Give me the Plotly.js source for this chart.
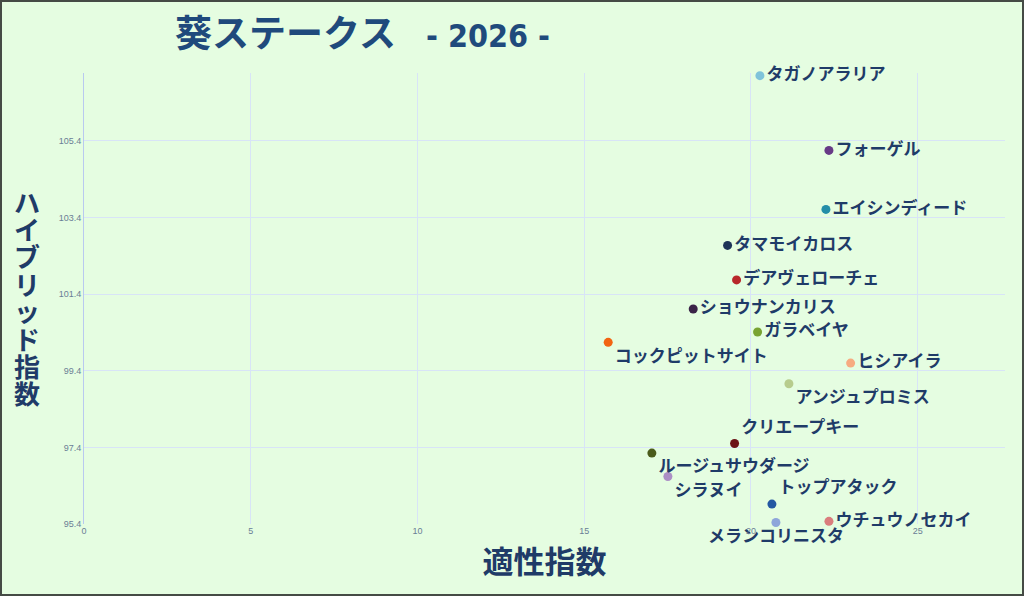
<!DOCTYPE html>
<html>
<head>
<meta charset="utf-8">
<script src="https://cdn.plot.ly/plotly-3.0.1.min.js"></script>
<style>
  html, body { margin: 0; padding: 0; background: #e5fde1; }
  #frame { width: 1024px; height: 596px; box-sizing: border-box; border: 2px solid #454b45; }
  #chart { width: 1020px; height: 592px; }
</style>
</head>
<body>
<div id="frame"><div id="chart"></div></div>
<script>
// horses
let horse_names = [
    "タガノアラリア", "フォーゲル", "エイシンディード", "タマモイカロス",
    "デアヴェローチェ", "ショウナンカリス", "ガラベイヤ", "コックピットサイト",
    "ヒシアイラ", "アンジュプロミス", "クリエープキー", "ルージュサウダージ",
    "シラヌイ", "トップアタック", "メランコリニスタ", "ウチュウノセカイ"
];
let aptitude_index = [
    20.27, 22.34, 22.25, 19.30,
    19.57, 18.27, 20.20, 15.72,
    22.99, 21.14, 19.51, 17.03,
    17.51, 20.63, 20.75, 22.34
];
let hybrid_index = [
    107.10, 105.15, 103.61, 102.67,
    101.77, 101.01, 100.41, 100.14,
    99.60, 99.06, 97.50, 97.25,
    96.64, 95.92, 95.44, 95.47
];

// styling, one per horse
let marker_colors = [
    "#7fc3da", "#673a86", "#238ea8", "#1d3357",
    "#b8282a", "#3b2448", "#79a332", "#f26412",
    "#f7ab80", "#b7cc8d", "#6c1316", "#4b5c1c",
    "#ac8fc5", "#2458a2", "#8ea6da", "#da7d7d"
];
let label_positions = [
    "middle right", "middle right", "middle right", "middle right",
    "middle right", "middle right", "middle right", "bottom right",
    "middle right", "bottom right", "top right", "bottom right",
    "bottom right", "top right", "bottom center", "middle right"
];

let text_color = "#1f3b68";
let jp_font = "'Noto Sans CJK JP', 'Noto Sans', sans-serif";

var data = [{
    type: "scatter",
    mode: "markers+text",
    x: aptitude_index,
    y: hybrid_index,
    text: horse_names,
    textposition: label_positions,
    textfont: { family: jp_font, size: 17, color: text_color, weight: "bold" },
    marker: { size: 9, color: marker_colors },
    cliponaxis: false,
    hoverinfo: "text+x+y",
    showlegend: false
}];

// vertical y title, one character per annotation
var yTitle = "ハイブリッド指数";
var annotations = [];
for (var i = 0; i < yTitle.length; ++i) {
    var py = 199 + i * 27.4;          // pixel centre inside the chart div
    annotations.push({
        xref: "paper", yref: "paper",
        x: -0.062, y: 1 - (py - 71) / (592 - 71 - 70),
        xanchor: "center", yanchor: "middle",
        showarrow: false,
        text: yTitle[i],
        font: { family: jp_font, size: 26, color: text_color, weight: "bold" }
    });
}

var layout = {
    width: 1020,
    height: 592,
    paper_bgcolor: "#e5fde1",
    plot_bgcolor: "#e5fde1",
    margin: { l: 82, r: 17, t: 71, b: 70 },
    title: {
        text: "<b>葵ステークス<span style=\"font-family:'DejaVu Sans Condensed';font-size:32px\">&nbsp;&nbsp;&nbsp;- 2026 -</span></b>",
        font: { family: jp_font, size: 37, color: "#1f4a7c" },
        xref: "container", x: 173 / 1020, xanchor: "left",
        yref: "container", y: 1 - 32 / 592, yanchor: "middle"
    },
    xaxis: {
        range: [0, 27.62],
        tick0: 0, dtick: 5,
        showgrid: true, gridcolor: "#d8e4f7", gridwidth: 1,
        zeroline: false,
        showline: false,
        ticks: "",
        tickfont: { family: "Liberation Sans, Arial", size: 9, color: "#6a7d96" },
        title: {
            text: "<b>適性指数</b>",
            font: { family: jp_font, size: 31, color: text_color },
            standoff: 16
        }
    },
    yaxis: {
        range: [95.4, 107.17],
        tick0: 95.4, dtick: 2,
        tickformat: ".1f",
        showgrid: true, gridcolor: "#d8e4f7", gridwidth: 1,
        zeroline: false,
        showline: true, linecolor: "#b9c9f0", linewidth: 1,
        ticks: "",
        tickfont: { family: "Liberation Sans, Arial", size: 9, color: "#6a7d96" }
    },
    annotations: annotations
};

Plotly.newPlot("chart", data, layout, { displayModeBar: false, staticPlot: true });
</script>
</body>
</html>
